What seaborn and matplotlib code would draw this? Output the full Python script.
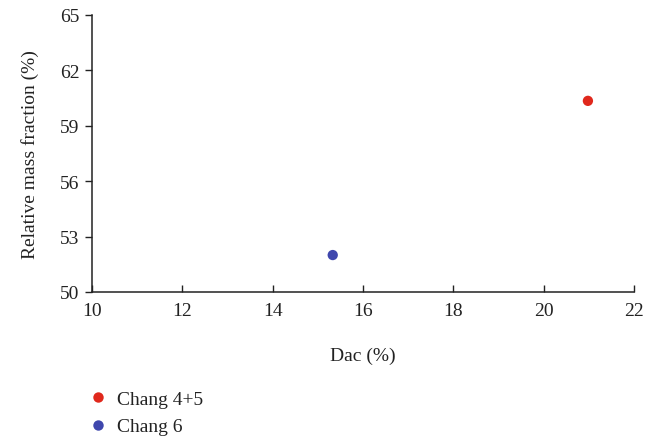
import matplotlib
matplotlib.use("Agg")
import matplotlib.pyplot as plt
import seaborn as sns
import pandas as pd
from matplotlib.lines import Line2D

groups = ["Chang 4+5", "Chang 6"]
dac = [20.98, 15.33]
mass_fraction = [60.35, 52.0]
colors = ["#e0281c", "#3f47ad"]
xticks = [10, 12, 14, 16, 18, 20, 22]
yticks = [50, 53, 56, 59, 62, 65]

sns.set_theme(style="ticks")
plt.rcParams['font.family'] = ['Liberation Serif', 'DejaVu Serif']

df = pd.DataFrame({"group": groups, "Dac": dac, "Rel": mass_fraction})

fig = plt.figure(figsize=(6.58, 4.39), dpi=100)
ax = fig.add_axes([0.1398, 0.3326, 0.8237, 0.631])
sns.scatterplot(data=df, x="Dac", y="Rel", hue="group", palette=colors,
                s=55, edgecolor="none", legend=False, ax=ax)

ax.set_xlim(10, 22)
ax.set_ylim(50, 65)
ax.set_xticks(xticks)
ax.set_yticks(yticks)
ax.tick_params(axis="x", direction="in", length=5, width=1, labelsize=14, colors="#222222", pad=7)
ax.tick_params(axis="y", direction="out", length=5, width=1, labelsize=14, colors="#222222", pad=4)
for lab in ax.get_xticklabels() + ax.get_yticklabels():
    lab.set_color("#222222")
sns.despine(ax=ax)
for s in ["left", "bottom"]:
    ax.spines[s].set_color("#222222")
    ax.spines[s].set_linewidth(1.1)

ax.set_xlabel("Dac (%)", fontsize=14, color="#222222", labelpad=20)
ax.set_ylabel("Relative mass fraction (%)", fontsize=14, color="#222222", labelpad=15)

handles = [Line2D([0], [0], marker="o", linestyle="none", markersize=7.5,
                  markerfacecolor=c, markeredgecolor="none", label=g)
           for g, c in zip(groups, colors)]
fig.legend(handles=handles, loc="upper left", bbox_to_anchor=(0.122, 0.126),
           frameon=False, fontsize=14, handletextpad=0.5, labelspacing=0.5,
           borderaxespad=0, handlelength=1.0, labelcolor="#222222")

fig.savefig("out.png", dpi=100)
